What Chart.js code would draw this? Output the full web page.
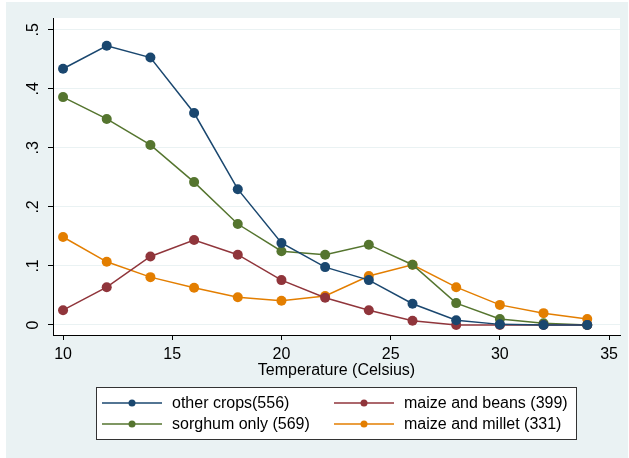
<!DOCTYPE html>
<html>
<head>
<meta charset="utf-8">
<script src="https://cdn.jsdelivr.net/npm/chart.js@4/dist/chart.umd.min.js"></script>
<style>
  html, body { margin: 0; padding: 0; background: #fff; }
  #box { width: 629px; height: 458px; }
</style>
</head>
<body>
<div id="box"><canvas id="grafico"></canvas></div>
<script>
const temperaturas = [10, 12, 14, 16, 18, 20, 22, 24, 26, 28, 30, 32, 34];

const outrasCulturas = [0.434, 0.473, 0.453, 0.359, 0.230, 0.139, 0.098, 0.076, 0.036, 0.008, 0.001, 0.000, 0.000];
const soSorgo = [0.386, 0.349, 0.305, 0.242, 0.171, 0.125, 0.119, 0.136, 0.102, 0.037, 0.010, 0.003, 0.000];
const milhoFeijao = [0.025, 0.064, 0.116, 0.144, 0.119, 0.076, 0.046, 0.025, 0.007, 0.000, 0.000, 0.000, 0.000];
const milhoMilheto = [0.149, 0.107, 0.081, 0.063, 0.047, 0.041, 0.049, 0.083, 0.102, 0.064, 0.034, 0.020, 0.010];

const rotulos = ["other crops(556)", "maize and beans (399)", "sorghum only (569)", "maize and millet (331)"];
const xTicks = [10, 15, 20, 25, 30, 35];
const yTicks = [0, 0.1, 0.2, 0.3, 0.4, 0.5];
const yTickLabels = ["0", ".1", ".2", ".3", ".4", ".5"];

const FONTE = "'Liberation Sans', Arial, sans-serif";
const FUNDO = "#eaf2f3";

function pontos(valores) {
  return temperaturas.map((t, i) => ({ x: t, y: valores[i] }));
}

function serie(label, valores, cor) {
  return {
    label: label,
    data: pontos(valores),
    borderColor: cor,
    backgroundColor: cor,
    borderWidth: 1.5,
    pointRadius: 5,
    pointHoverRadius: 5,
    pointBorderWidth: 0,
    tension: 0,
  };
}

// fundo cinza-azulado do Stata, com a area do grafico em branco
const fundoPlugin = {
  id: "fundo",
  beforeDraw(chart) {
    const ctx = chart.ctx;
    const a = chart.chartArea;
    ctx.save();
    ctx.fillStyle = "#ffffff";
    ctx.fillRect(0, 0, chart.width, chart.height);
    ctx.fillStyle = FUNDO;
    ctx.fillRect(6, 2, chart.width - 7, chart.height - 2);
    ctx.fillStyle = "#ffffff";
    ctx.fillRect(a.left, a.top, a.right - a.left, a.bottom - a.top);
    ctx.restore();
  },
};

// rotulos do eixo y girados, como no Stata
const rotulosYPlugin = {
  id: "rotulosY",
  afterDraw(chart) {
    const ctx = chart.ctx;
    const y = chart.scales.y;
    ctx.save();
    ctx.fillStyle = "#000";
    ctx.font = "16px " + FONTE;
    ctx.textAlign = "center";
    ctx.textBaseline = "middle";
    yTicks.forEach((v, i) => {
      ctx.save();
      ctx.translate(y.right - 19, y.getPixelForValue(v));
      ctx.rotate(-Math.PI / 2);
      ctx.fillText(yTickLabels[i], 0, 0);
      ctx.restore();
    });
    ctx.restore();
  },
};

// legenda em caixa com duas colunas
const legendaPlugin = {
  id: "legendaCaixa",
  afterDraw(chart) {
    const ctx = chart.ctx;
    const bx = 96, by = 387, bw = 480, bh = 52;
    ctx.save();
    ctx.fillStyle = "#ffffff";
    ctx.fillRect(bx, by, bw, bh);
    ctx.strokeStyle = "#333";
    ctx.lineWidth = 1;
    ctx.strokeRect(bx + 0.5, by + 0.5, bw, bh);
    const colX = [102, 334];
    const rowY = [403, 424];
    ctx.font = "16px " + FONTE;
    ctx.textBaseline = "middle";
    ctx.textAlign = "left";
    chart.data.datasets.forEach((ds, k) => {
      const x0 = colX[k % 2];
      const yy = rowY[Math.floor(k / 2)];
      ctx.strokeStyle = ds.borderColor;
      ctx.lineWidth = 1.5;
      ctx.beginPath();
      ctx.moveTo(x0, yy);
      ctx.lineTo(x0 + 60, yy);
      ctx.stroke();
      ctx.fillStyle = ds.borderColor;
      ctx.beginPath();
      ctx.arc(x0 + 30, yy, 3.5, 0, Math.PI * 2);
      ctx.fill();
      ctx.fillStyle = "#000";
      ctx.fillText(ds.label, x0 + 70, yy + 1);
    });
    ctx.restore();
  },
};

new Chart(document.getElementById("grafico"), {
  type: "line",
  data: {
    datasets: [
      serie(rotulos[0], outrasCulturas, "#1a476f"),
      serie(rotulos[1], milhoFeijao, "#90353b"),
      serie(rotulos[2], soSorgo, "#55752f"),
      serie(rotulos[3], milhoMilheto, "#e37e00"),
    ],
  },
  options: {
    responsive: true,
    maintainAspectRatio: false,
    animation: false,
    layout: { padding: { left: 6, top: 18, right: 9, bottom: 78 } },
    plugins: {
      legend: { display: false },
      tooltip: { enabled: false },
    },
    scales: {
      x: {
        type: "linear",
        min: 9.54,
        max: 35.5,
        afterBuildTicks: (s) => { s.ticks = xTicks.map((v) => ({ value: v })); },
        afterFit: (s) => { s.height = 45; },
        grid: { drawOnChartArea: false, drawTicks: true, tickLength: 5, tickColor: "#000" },
        border: { color: "#000", width: 1 },
        ticks: { color: "#000", font: { family: FONTE, size: 16 }, padding: 5, maxRotation: 0 },
        title: { display: true, text: "Temperature (Celsius)", color: "#000", font: { family: FONTE, size: 16 }, padding: { top: 0, bottom: 0 } },
      },
      y: {
        type: "linear",
        min: -0.017,
        max: 0.52,
        afterBuildTicks: (s) => { s.ticks = yTicks.map((v) => ({ value: v })); },
        afterFit: (s) => { s.width = 47; },
        grid: { color: FUNDO, lineWidth: 1, drawTicks: true, tickLength: 5, tickColor: "#000" },
        border: { color: "#000", width: 1 },
        ticks: { display: false },
      },
    },
  },
  plugins: [fundoPlugin, rotulosYPlugin, legendaPlugin],
});
</script>
</body>
</html>
